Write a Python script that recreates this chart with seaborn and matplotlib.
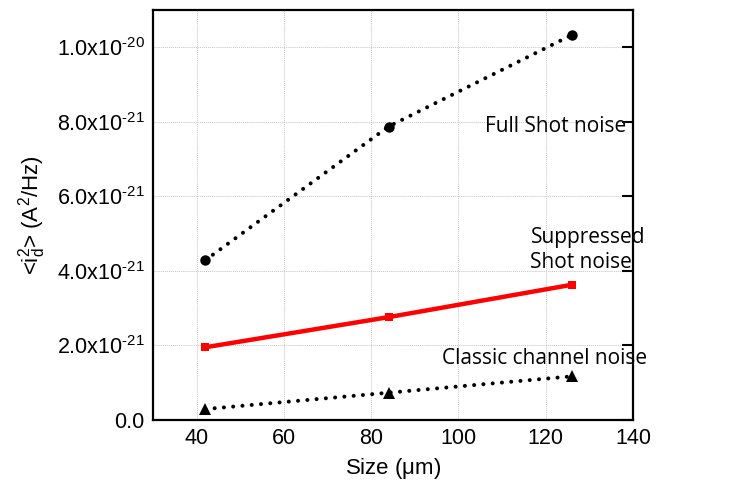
import matplotlib
matplotlib.use("Agg")
import matplotlib.pyplot as plt
import seaborn as sns
import pandas as pd

size_um = [42, 84, 126]
full_shot = [4.28e-21, 7.87e-21, 1.033e-20]
suppressed_shot = [1.94e-21, 2.75e-21, 3.62e-21]
classic_channel = [0.28e-21, 0.72e-21, 1.16e-21]

x_ticks = [40, 60, 80, 100, 120, 140]
y_ticks = [0.0, 2e-21, 4e-21, 6e-21, 8e-21, 1e-20]
y_tick_labels = ["0.0", r"2.0x10$^{\text{-21}}$", r"4.0x10$^{\text{-21}}$", r"6.0x10$^{\text{-21}}$",
                 r"8.0x10$^{\text{-21}}$", r"1.0x10$^{\text{-20}}$"]

sns.set_style("white")
plt.rcParams['font.family'] = ['Liberation Sans', 'DejaVu Sans']
plt.rcParams['mathtext.fontset'] = 'custom'
plt.rcParams['mathtext.rm'] = 'Liberation Sans'
plt.rcParams['mathtext.it'] = 'Liberation Sans'
plt.rcParams['mathtext.default'] = 'regular'
plt.rcParams['text.color'] = 'black'
plt.rcParams['axes.labelcolor'] = 'black'

fig = plt.figure(figsize=(7.45, 4.87), dpi=100)
ax = fig.add_axes([153/745, 1 - 419.5/487, (633-153)/745, (419.5-10)/487])

df = pd.DataFrame({"size": size_um, "full": full_shot,
                   "supp": suppressed_shot, "classic": classic_channel})

dot = (0, (0.01, 2.3))
sns.lineplot(data=df, x="size", y="full", ax=ax, color="black", lw=2.9,
             linestyle=dot, marker="o", markersize=7.5, markeredgewidth=0)
sns.lineplot(data=df, x="size", y="supp", ax=ax, color="#ff0000", lw=3.2,
             marker="s", markersize=6, markeredgewidth=0)
sns.lineplot(data=df, x="size", y="classic", ax=ax, color="black", lw=2.9,
             linestyle=dot, marker="^", markersize=8.5, markeredgewidth=0)
for l in ax.get_lines():
    l.set_dash_capstyle("round")

ax.set_xlim(30, 140)
ax.set_ylim(0, 1.1e-20)
ax.set_xticks(x_ticks)
ax.set_yticks(y_ticks)
ax.set_yticklabels(y_tick_labels)
ax.grid(True, color="#c4c4c4", linestyle=(0, (1, 1)), linewidth=0.7)
ax.tick_params(direction="in", length=8, width=1.5, labelsize=15.5,
               top=False, right=True, pad=6, colors="black")
for s in ax.spines.values():
    s.set_linewidth(1.6)
    s.set_color("black")

ax.set_xlabel(r"Size ($\mu$m)", fontsize=16, labelpad=5)
ax.set_ylabel(r"<i$_d^2$> (A$^2$/Hz)", fontsize=16, labelpad=6)

tfont = ['Open Sans', 'DejaVu Sans']
ax.text(106, 7.86e-21, "Full Shot noise", fontsize=15, family=tfont, va="center")
ax.text(116.5, 4.55e-21, "Suppressed\nShot noise", fontsize=15, family=tfont,
        va="center", linespacing=1.25)
ax.text(96.3, 1.65e-21, "Classic channel noise", fontsize=15, family=tfont, va="center")

fig.savefig("out.png", dpi=100)
